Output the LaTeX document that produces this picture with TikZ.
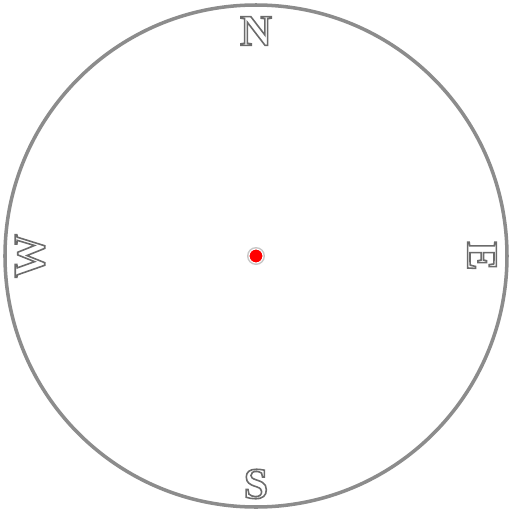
\documentclass[tikz,border=0pt]{standalone}
\usepackage{fontspec}
\setmainfont{Liberation Serif}
\tikzset{
  ring/.style={draw=gray!90, line width=2pt},
  letter/.style={font=\bfseries\fontsize{25}{25}\selectfont, inner sep=0pt, text=white},
  centerdot/.style={circle, fill=red, draw=white, line width=0.6pt, minimum size=0.28cm, inner sep=0pt},
  halo/.style={circle, fill=gray!45, minimum size=0.36cm, inner sep=0pt}
}
\newcommand{\stroked}[1]{\special{pdf:literal 2 Tr 0.42 G 0.9 w}#1\special{pdf:literal 0 Tr}}
\begin{document}
\begin{tikzpicture}
\useasboundingbox (-5.12,-5.12) rectangle (5.12,5.12);
\fill[white] (-5.12,-5.12) rectangle (5.12,5.12);
\node[circle, ring, minimum size=10.04cm, inner sep=0pt] (dial) at (0,0) {};
\node[letter] (north) at (0,4.5) {\stroked{N}};
\node[letter] (south) at (0,-4.56) {\stroked{S}};
\node[letter, rotate=90] (west) at (-4.52,0) {\stroked{W}};
\node[letter, rotate=-90] (east) at (4.52,0) {\stroked{E}};
\node[halo] (hubhalo) at (0,0) {};
\node[centerdot] (hub) at (0,0) {};
\end{tikzpicture}
\end{document}
